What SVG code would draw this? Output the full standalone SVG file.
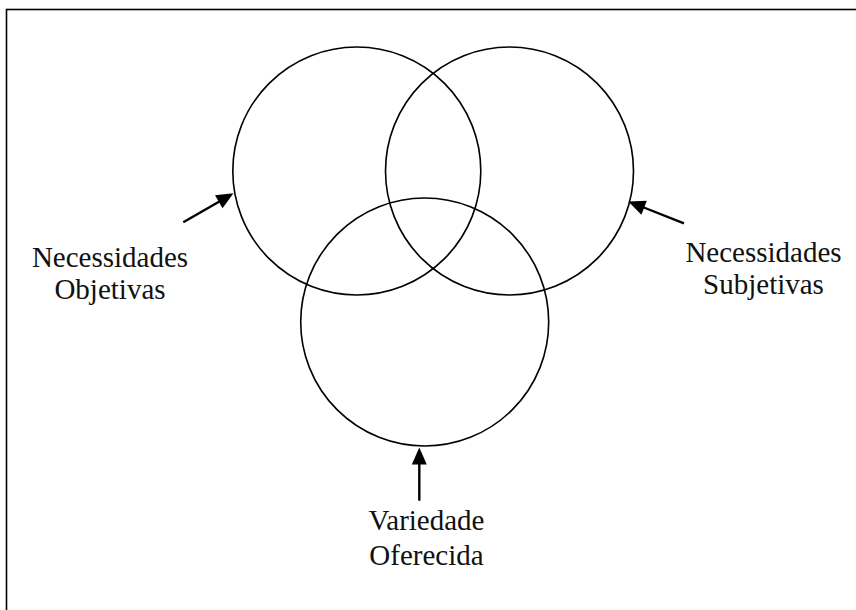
<svg xmlns="http://www.w3.org/2000/svg" width="856" height="610" viewBox="0 0 856 610">
  <style>
    .ring { fill: none; stroke: #000; stroke-width: 1.6; }
    .link { stroke: #000; stroke-width: 2.4; fill: none; }
    .tip { fill: #000; stroke: none; }
    .label { font-family: "Liberation Serif", "Times New Roman", serif; font-size: 29px; fill: #111; text-anchor: middle; }
  </style>
  <defs>
    <!-- arrowhead pointing along +x, tip at the origin -->
    <path id="tip" d="M0,0 L-17,-7.5 L-17,7.5 z"/>
  </defs>
  <rect width="856" height="610" fill="#fff"/>
  <!-- outer frame (continues past the right and bottom edges) -->
  <rect x="6.5" y="9.5" width="900" height="700" fill="none" stroke="#000" stroke-width="1.6"/>

  <g id="objetivas">
    <circle class="ring" cx="356.8" cy="171" r="124"/>
    <text class="label" x="110" y="266.5">Necessidades</text>
    <text class="label" x="110" y="298.5">Objetivas</text>
  </g>
  <g id="subjetivas">
    <circle class="ring" cx="509.5" cy="171" r="124"/>
    <text class="label" x="763.5" y="261.5">Necessidades</text>
    <text class="label" x="763.5" y="294">Subjetivas</text>
  </g>
  <g id="oferecida">
    <circle class="ring" cx="424.7" cy="322" r="124"/>
    <text class="label" x="426.5" y="530">Variedade</text>
    <text class="label" x="426.5" y="564.5">Oferecida</text>
  </g>

  <g id="connectors">
    <line class="link" x1="183.3" y1="222.3" x2="222" y2="200"/>
    <use href="#tip" class="tip" transform="translate(233.5,193.3) rotate(-30)"/>
    <line class="link" x1="684" y1="223.3" x2="640" y2="206"/>
    <use href="#tip" class="tip" transform="translate(628.3,201.5) rotate(201.5)"/>
    <line class="link" x1="419.3" y1="500.7" x2="419.3" y2="460"/>
    <use href="#tip" class="tip" transform="translate(419.3,447.5) rotate(-90)"/>
  </g>
</svg>
